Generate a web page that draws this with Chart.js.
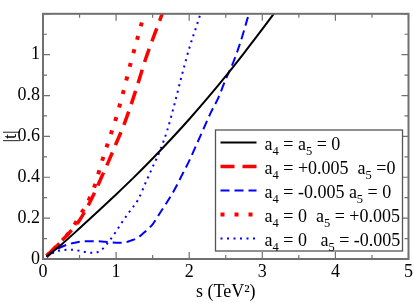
<!DOCTYPE html>
<html>
<head>
<meta charset="utf-8">
<script src="https://cdn.jsdelivr.net/npm/chart.js@4.4.1/dist/chart.umd.min.js"></script>
<style>
  html, body { margin: 0; padding: 0; background: #fff; }
  #wrap { width: 415px; height: 303px; }
</style>
</head>
<body>
<div id="wrap"><canvas id="c" width="415" height="303"></canvas></div>
<script>
// valeurs (s en TeV^2, |t|)
const sBlack = [0.05, 0.25, 0.5, 0.75, 1.0, 1.25, 1.5, 1.75, 2.0, 2.25, 2.5, 2.75, 3.0, 3.2];
const tBlack = [0.012, 0.07, 0.15, 0.232, 0.316, 0.402, 0.492, 0.586, 0.684, 0.787, 0.895, 1.008, 1.125, 1.22];

const sRedDash = [0.05, 0.2, 0.3, 0.4, 0.5, 0.6, 0.7, 0.8, 0.9, 1.0, 1.1, 1.2, 1.3, 1.4, 1.5, 1.6, 1.66];
const tRedDash = [0.015, 0.07, 0.105, 0.145, 0.19, 0.25, 0.32, 0.40, 0.48, 0.565, 0.65, 0.75, 0.86, 0.975, 1.075, 1.17, 1.23];

const sBlueDash = [0.05, 0.2, 0.4, 0.6, 0.8, 1.0, 1.1, 1.2, 1.3, 1.4, 1.5, 1.6, 1.7, 1.8, 1.9, 2.0, 2.1, 2.2, 2.3, 2.4, 2.5, 2.6, 2.7, 2.8, 2.85];
const tBlueDash = [0.01, 0.05, 0.077, 0.087, 0.086, 0.08, 0.08, 0.09, 0.105, 0.135, 0.17, 0.225, 0.28, 0.34, 0.41, 0.48, 0.56, 0.64, 0.72, 0.79, 0.88, 0.96, 1.06, 1.18, 1.24];

const sRedDot = [0.05, 0.2, 0.3, 0.4, 0.5, 0.6, 0.7, 0.8, 0.9, 1.0, 1.1, 1.2, 1.3, 1.4];
const tRedDot = [0.015, 0.065, 0.105, 0.15, 0.21, 0.27, 0.35, 0.47, 0.58, 0.69, 0.82, 0.96, 1.09, 1.22];

const sBlueDot = [0.05, 0.2, 0.4, 0.6, 0.7, 0.8, 0.9, 1.0, 1.1, 1.2, 1.3, 1.4, 1.5, 1.6, 1.7, 1.8, 1.9, 2.0, 2.1, 2.2];
const tBlueDot = [0.01, 0.04, 0.045, 0.033, 0.03, 0.045, 0.085, 0.135, 0.19, 0.24, 0.29, 0.37, 0.45, 0.53, 0.63, 0.76, 0.90, 1.03, 1.14, 1.25];

const seriesLabels = [
    'a_4 = a_5 = 0',
    'a_4 = +0.005  a_5 =0',
    'a_4 = -0.005 a_5 = 0',
    'a_4 = 0  a_5 = +0.005',
    'a_4 = 0   a_5 = -0.005'
];

const xTicks = [0, 1, 2, 3, 4, 5];
const xTickLabels = ['0', '1', '2', '3', '4', '5'];
const yTicks = [0, 0.2, 0.4, 0.6, 0.8, 1];
const yTickLabels = ['0', '0.2', '0.4', '0.6', '0.8', '1'];

const SERIF = "'Liberation Serif', 'Times New Roman', 'DejaVu Serif', serif";
const FRAME = '#707070';

const pts = (xs, ys) => xs.map((x, i) => ({ x: x, y: ys[i] }));

// ticks internes sur les quatre côtés + cadre
const frameTicks = {
    id: 'frameTicks',
    afterDatasetsDraw(chart) {
        const { ctx, chartArea: a, scales: { x, y } } = chart;
        ctx.save();
        ctx.strokeStyle = FRAME;
        ctx.lineWidth = 1.2;
        ctx.beginPath();
        for (let v = 0; v <= 5.001; v += 0.5) {
            const px = x.getPixelForValue(v);
            const len = Math.abs(v - Math.round(v)) < 0.01 ? 7 : 4;
            ctx.moveTo(px, a.bottom); ctx.lineTo(px, a.bottom - len);
            ctx.moveTo(px, a.top); ctx.lineTo(px, a.top + len);
        }
        for (let i = 0; i <= 12; i++) {
            const v = i / 10;
            const py = y.getPixelForValue(v);
            const len = i % 2 === 0 ? 7 : 4;
            ctx.moveTo(a.left, py); ctx.lineTo(a.left + len, py);
            ctx.moveTo(a.right, py); ctx.lineTo(a.right - len, py);
        }
        ctx.stroke();
        ctx.lineWidth = 2;
        ctx.strokeRect(a.left, a.top, a.right - a.left, a.bottom - a.top);
        ctx.restore();
    }
};

// texte avec indices (a_4 -> a + 4 en indice)
function drawSubText(ctx, text, x, y) {
    const parts = text.split(/_(\d)/);
    let cx = x;
    parts.forEach((p, i) => {
        if (i % 2 === 1) {
            ctx.font = '12.5px ' + SERIF;
            ctx.fillText(p, cx, y + 5.5);
        } else {
            ctx.font = '18px ' + SERIF;
            ctx.fillText(p, cx, y);
        }
        cx += ctx.measureText(p).width;
    });
}

const boxLegend = {
    id: 'boxLegend',
    afterDraw(chart) {
        const { ctx, chartArea: a } = chart;
        const right = a.right - 6, bottom = a.bottom - 8;
        const w = 187, h = 121;
        const left = right - w, top = bottom - h;
        ctx.save();
        ctx.fillStyle = '#fff';
        ctx.fillRect(left, top, w, h);
        ctx.strokeStyle = '#555';
        ctx.lineWidth = 1.3;
        ctx.strokeRect(left, top, w, h);
        chart.data.datasets.forEach((ds, i) => {
            const yy = top + 12.5 + i * 24;
            ctx.strokeStyle = ds.borderColor;
            ctx.lineWidth = ds.borderWidth;
            ctx.lineCap = ds.borderCapStyle || 'butt';
            ctx.setLineDash(ds.borderDash || []);
            ctx.beginPath();
            ctx.moveTo(left + 5, yy);
            ctx.lineTo(left + 41, yy);
            ctx.stroke();
            ctx.setLineDash([]);
            ctx.fillStyle = '#000';
            ctx.textBaseline = 'alphabetic';
            drawSubText(ctx, seriesLabels[i], left + 49, yy + 7);
        });
        ctx.restore();
    }
};

const commonLine = { fill: false, pointRadius: 0, cubicInterpolationMode: 'monotone', borderCapStyle: 'butt' };

new Chart(document.getElementById('c'), {
    type: 'line',
    data: {
        datasets: [
            { ...commonLine, label: seriesLabels[0], data: pts(sBlack, tBlack), borderColor: '#000000', borderWidth: 2 },
            { ...commonLine, label: seriesLabels[1], data: pts(sRedDash, tRedDash), borderColor: '#ff0000', borderWidth: 3.5, borderDash: [14, 8] },
            { ...commonLine, label: seriesLabels[2], data: pts(sBlueDash, tBlueDash), borderColor: '#0000ff', borderWidth: 2, borderDash: [9, 5] },
            { ...commonLine, label: seriesLabels[3], data: pts(sRedDot, tRedDot), borderColor: '#ff0000', borderWidth: 4, borderDash: [4, 10] },
            { ...commonLine, label: seriesLabels[4], data: pts(sBlueDot, tBlueDot), borderColor: '#0000ff', borderWidth: 2, borderDash: [2, 4.5] }
        ]
    },
    plugins: [frameTicks, boxLegend],
    options: {
        responsive: false,
        animation: false,
        events: [],
        layout: { padding: { top: 3, right: 6, left: 0, bottom: 0 } },
        plugins: { legend: { display: false }, tooltip: { enabled: false } },
        scales: {
            x: {
                type: 'linear', min: 0, max: 5,
                afterBuildTicks: (s) => { s.ticks = xTicks.map(v => ({ value: v })); },
                afterFit: (s) => { s.height = 44; },
                grid: { display: false, drawTicks: false },
                border: { display: false },
                ticks: {
                    color: '#000', padding: 2, maxRotation: 0,
                    font: { family: SERIF, size: 18 },
                    callback: (v) => xTickLabels[xTicks.indexOf(v)]
                },
                title: {
                    display: true, text: 's (TeV²)', color: '#000',
                    font: { family: SERIF, size: 18 }, padding: { top: 0, bottom: 0 }
                }
            },
            y: {
                type: 'linear', min: 0, max: 1.2,
                afterBuildTicks: (s) => { s.ticks = yTicks.map(v => ({ value: v })); },
                afterFit: (s) => { s.width = 43; },
                grid: { display: false, drawTicks: false },
                border: { display: false },
                ticks: {
                    color: '#000', padding: 3,
                    font: { family: SERIF, size: 18 },
                    callback: (v) => yTickLabels[yTicks.indexOf(v)]
                },
                title: {
                    display: true, text: '|t|', color: '#000',
                    font: { family: SERIF, size: 18 }, padding: 0
                }
            }
        }
    }
});
</script>
</body>
</html>
